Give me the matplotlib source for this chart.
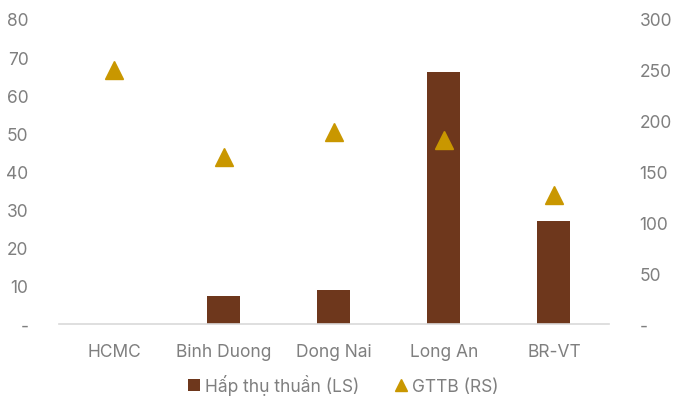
import matplotlib.pyplot as plt
import numpy as np
from matplotlib.lines import Line2D

# Dữ liệu theo tỉnh
provinces = ['HCMC', 'Binh Duong', 'Dong Nai', 'Long An', 'BR-VT']
hap_thu = [0, 7.3, 8.9, 66.1, 27.0]        # Hấp thụ thuần (LS)
gttb = [250, 164, 189, 181, 127]           # GTTB (RS)
left_ticks = [0, 10, 20, 30, 40, 50, 60, 70, 80]
right_ticks = [0, 50, 100, 150, 200, 250, 300]

plt.rcParams['font.family'] = ['Inter', 'DejaVu Sans']
text_color = '#7f7f7f'
bar_color = '#6E371C'
tri_color = '#C99700'

fig = plt.figure(figsize=(6.73, 4.10), dpi=100)
ax = fig.add_axes([0.0877, 0.2073, 0.817, 0.744])
ax2 = ax.twinx()

x = np.arange(len(provinces))
bars = ax.bar(x, hap_thu, width=0.3, color=bar_color, label='Hấp thụ thuần (LS)', zorder=2)
ax2.plot(x, gttb, linestyle='none', marker='^', markersize=12.5,
         color=tri_color, zorder=3)

ax.set_xlim(-0.5, len(provinces) - 0.5)
ax.set_ylim(0, 80)
ax2.set_ylim(0, 300)
ax.set_yticks(left_ticks)
ax.set_yticklabels(['-' if v == 0 else str(v) for v in left_ticks])
ax2.set_yticks(right_ticks)
ax2.set_yticklabels(['-' if v == 0 else str(v) for v in right_ticks])
ax.set_xticks(x)
ax.set_xticklabels(provinces)

for a in (ax, ax2):
    for s in a.spines.values():
        s.set_visible(False)
    a.tick_params(length=0, labelsize=12.5, colors=text_color)
ax.spines['bottom'].set_visible(True)
ax.spines['bottom'].set_color('#d9d9d9')
ax.spines['bottom'].set_linewidth(1.2)
ax.tick_params(axis='y', pad=22)
ax2.tick_params(axis='y', pad=22)
ax.tick_params(axis='x', pad=14)

# chú thích: marker tam giác nhỏ hơn trên đồ thị
tri_handle = Line2D([], [], linestyle='none', marker='^', markersize=8,
                    color=tri_color, label='GTTB (RS)')
fig.legend(handles=[bars, tri_handle], loc='lower center', bbox_to_anchor=(0.51, -0.005),
           ncol=2, frameon=False, fontsize=12.5, labelcolor=text_color,
           handlelength=0.7, handletextpad=0.3, columnspacing=2.0)

plt.savefig('out.png', dpi=100)
